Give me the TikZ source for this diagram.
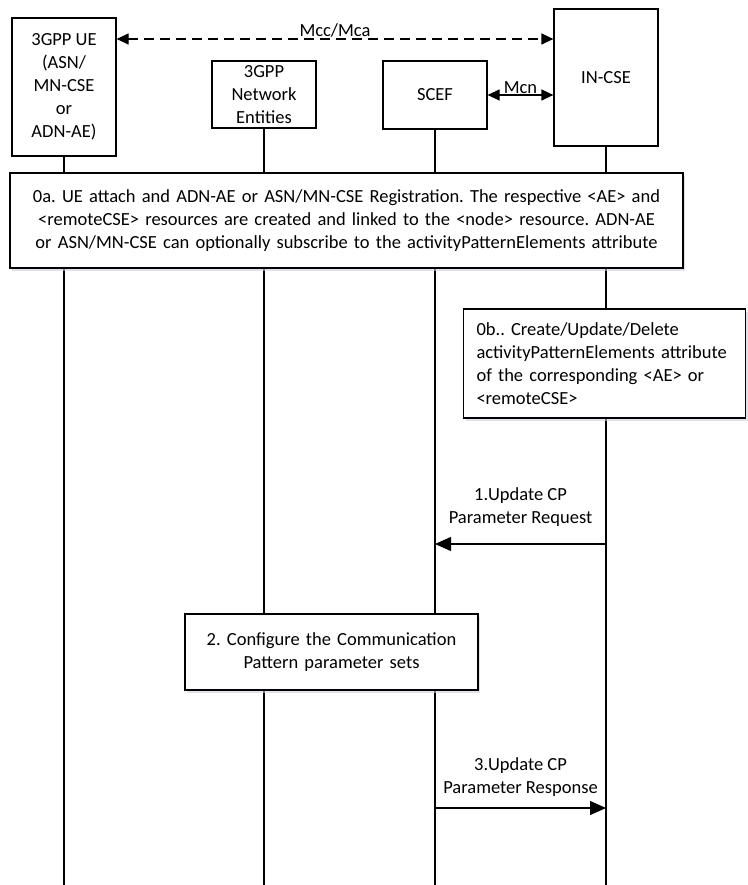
\documentclass[tikz,border=0pt]{standalone}
\usepackage{fontspec}
\setmainfont{Carlito}
\usetikzlibrary{arrows.meta,shadows}

\tikzstyle{entity}=[draw,fill=white,align=center,inner sep=0pt]
\tikzstyle{actionbox}=[draw,fill=white,inner sep=0pt,
  drop shadow={shadow xshift=2pt,shadow yshift=-3pt,fill=blue!25!gray!30,opacity=.6}]
\tikzstyle{msg}=[-{Triangle[length=16pt,width=14pt]}]
\tikzstyle{iface}=[dash pattern=on 10pt off 6pt]
\newcommand{\lifeline}[2]{\coordinate (#1-end) at (#2,885); \draw (#1.south) -- (#1-end);}
\newcommand{\msgarrow}[5]{\draw[msg] (#1.south |- 0,#4) -- node[above,align=center,inner sep=#5] {#3} (#2.south |- 0,#4);}

\begin{document}
\frenchspacing
\begin{tikzpicture}[x=1pt,y=-1pt,line width=1.2pt,font=\fontsize{18.5}{23}\selectfont\frenchspacing]
    \useasboundingbox (0,0) rectangle (747,885);
    % entities on top
    \node[entity,minimum width=104pt,minimum height=138pt] (ue) at (64,87) {3GPP UE\\(ASN/\\MN-CSE\\or\\ADN-AE)};
    \node[entity,minimum width=104pt,minimum height=67pt] (nwe) at (264,94.5) {3GPP\\Network\\Entities};
    \node[entity,minimum width=104pt,minimum height=68pt] (scef) at (435,95) {SCEF};
    \node[entity,minimum width=104pt,minimum height=137pt] (incse) at (606,77.5) {IN-CSE};

    % reference points
    \draw[iface,{Triangle[length=12pt,width=11pt]}-{Triangle[length=12pt,width=11pt]}]
        (ue.east |- 0,39) -- node[above,inner sep=1pt] {Mcc/Mca} (incse.west |- 0,39);
    \draw[{Triangle[length=12pt,width=11pt]}-{Triangle[length=12pt,width=11pt]}]
        (scef.east) -- node[above,inner sep=1pt] {Mcn} (incse.west |- scef.east);

    % lifelines
    \lifeline{ue}{64}
    \lifeline{nwe}{264}
    \lifeline{scef}{435}
    \lifeline{incse}{606}

    % steps
    \node[actionbox,minimum width=673pt,minimum height=95pt,text width=655pt,align=center] (reg) at (346.5,220.5)
        {0a. UE attach and ADN-AE or ASN/MN-CSE Registration. The respective <AE> and\\
         <remoteCSE> resources are created and linked to the <node> resource. ADN-AE\\
         or ASN/MN-CSE can optionally subscribe to the activityPatternElements attribute};
    \node[actionbox,minimum width=282pt,minimum height=109pt,text width=256pt,align=left] (upd) at (604.5,363.5)
        {0b.. Create/Update/Delete\\activityPatternElements attribute\\of the corresponding <AE> or\\<remoteCSE>};
    \msgarrow{incse}{scef}{1.Update CP\\Parameter Request}{544}{17pt}
    \node[actionbox,minimum width=293pt,minimum height=76pt,text width=280pt,align=center] (cfg) at (331.5,652)
        {2. Configure the Communication\\Pattern parameter sets};
    \msgarrow{scef}{incse}{3.Update CP\\Parameter Response}{808}{11pt}

\end{tikzpicture}
\end{document}
